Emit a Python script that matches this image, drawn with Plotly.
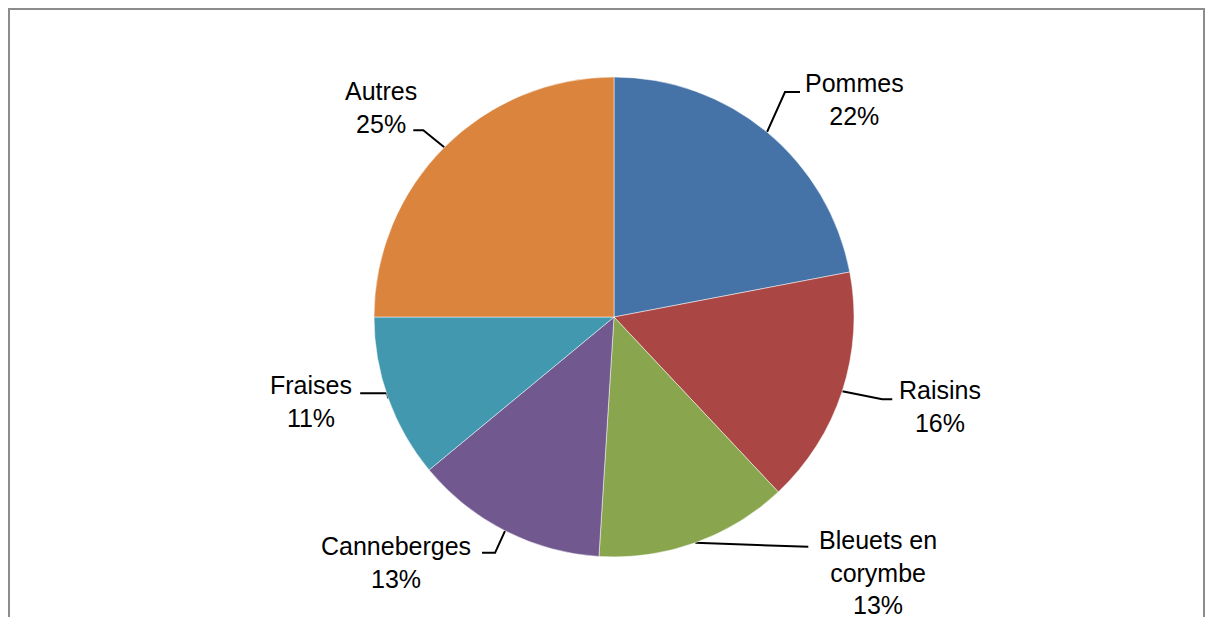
import math
import plotly.graph_objects as go

# ---- data ----
categories = ["Pommes", "Raisins", "Bleuets en<br>corymbe", "Canneberges", "Fraises", "Autres"]
values = [22, 16, 13, 13, 11, 25]
colors = ["#4572A7", "#AA4643", "#89A54E", "#71588F", "#4198AF", "#DB843D"]

# ---- layout (pixels) ----
W, H = 1205, 617
CX, CY, R = 614, 317, 240
FONT = dict(family="Liberation Sans, Arial, sans-serif", size=25, color="#000000")

# per-label leader styling: elbow offset from edge point, horizontal run, text centre offset
elbow_off = [(18, -40), (40, 8), (105, 4), (-10, 22), (-1, -5), (-21, -17)]
run_len = [15, 10, 8, -13, -27, -10]
text_off = [(88, -33), (98, 15), (183, 30), (-109, 32), (-77, 3), (-63, -40)]

fig = go.Figure()

fig.add_trace(go.Pie(
    labels=categories, values=values, sort=False, direction="clockwise", rotation=0,
    marker=dict(colors=colors, line=dict(color="#ffffff", width=0.5)),
    textinfo="none", hoverinfo="label+percent", showlegend=False,
    domain=dict(x=[(CX - R) / W, (CX + R) / W], y=[(H - (CY + R)) / H, (H - (CY - R)) / H]),
))

total = sum(values)
cum = 0
annotations = []
for i, (cat, v) in enumerate(zip(categories, values)):
    mid = (cum + v / 2) / total * 2 * math.pi
    cum += v
    ex = CX + R * math.sin(mid)
    ey = CY - R * math.cos(mid)
    bx, by = ex + elbow_off[i][0], ey + elbow_off[i][1]
    hx = bx + run_len[i]
    fig.add_trace(go.Scatter(
        x=[ex, bx, hx], y=[ey, by, by], mode="lines",
        line=dict(color="#000000", width=2), hoverinfo="skip", showlegend=False,
        xaxis="x", yaxis="y",
    ))
    pct = round(v / total * 100)
    annotations.append(dict(
        x=ex + text_off[i][0], y=ey + text_off[i][1], xref="x", yref="y",
        text=f"{cat}<br>{pct}%", showarrow=False, font=FONT, align="center",
        xanchor="center", yanchor="middle",
    ))

fig.update_layout(
    width=W, height=H, margin=dict(l=0, r=0, t=0, b=0),
    paper_bgcolor="#ffffff", plot_bgcolor="rgba(0,0,0,0)",
    xaxis=dict(range=[0, W], visible=False, domain=[0, 1], fixedrange=True),
    yaxis=dict(range=[H, 0], visible=False, domain=[0, 1], fixedrange=True),
    annotations=annotations,
    shapes=[dict(type="rect", xref="x", yref="y", x0=9, y0=9, x1=1204, y1=640,
                 line=dict(color="#8c8c8c", width=2), layer="above")],
)

fig.write_html("out.html", config={"displayModeBar": False},
               post_script="document.body.style.margin='0';document.body.style.overflow='hidden';")
